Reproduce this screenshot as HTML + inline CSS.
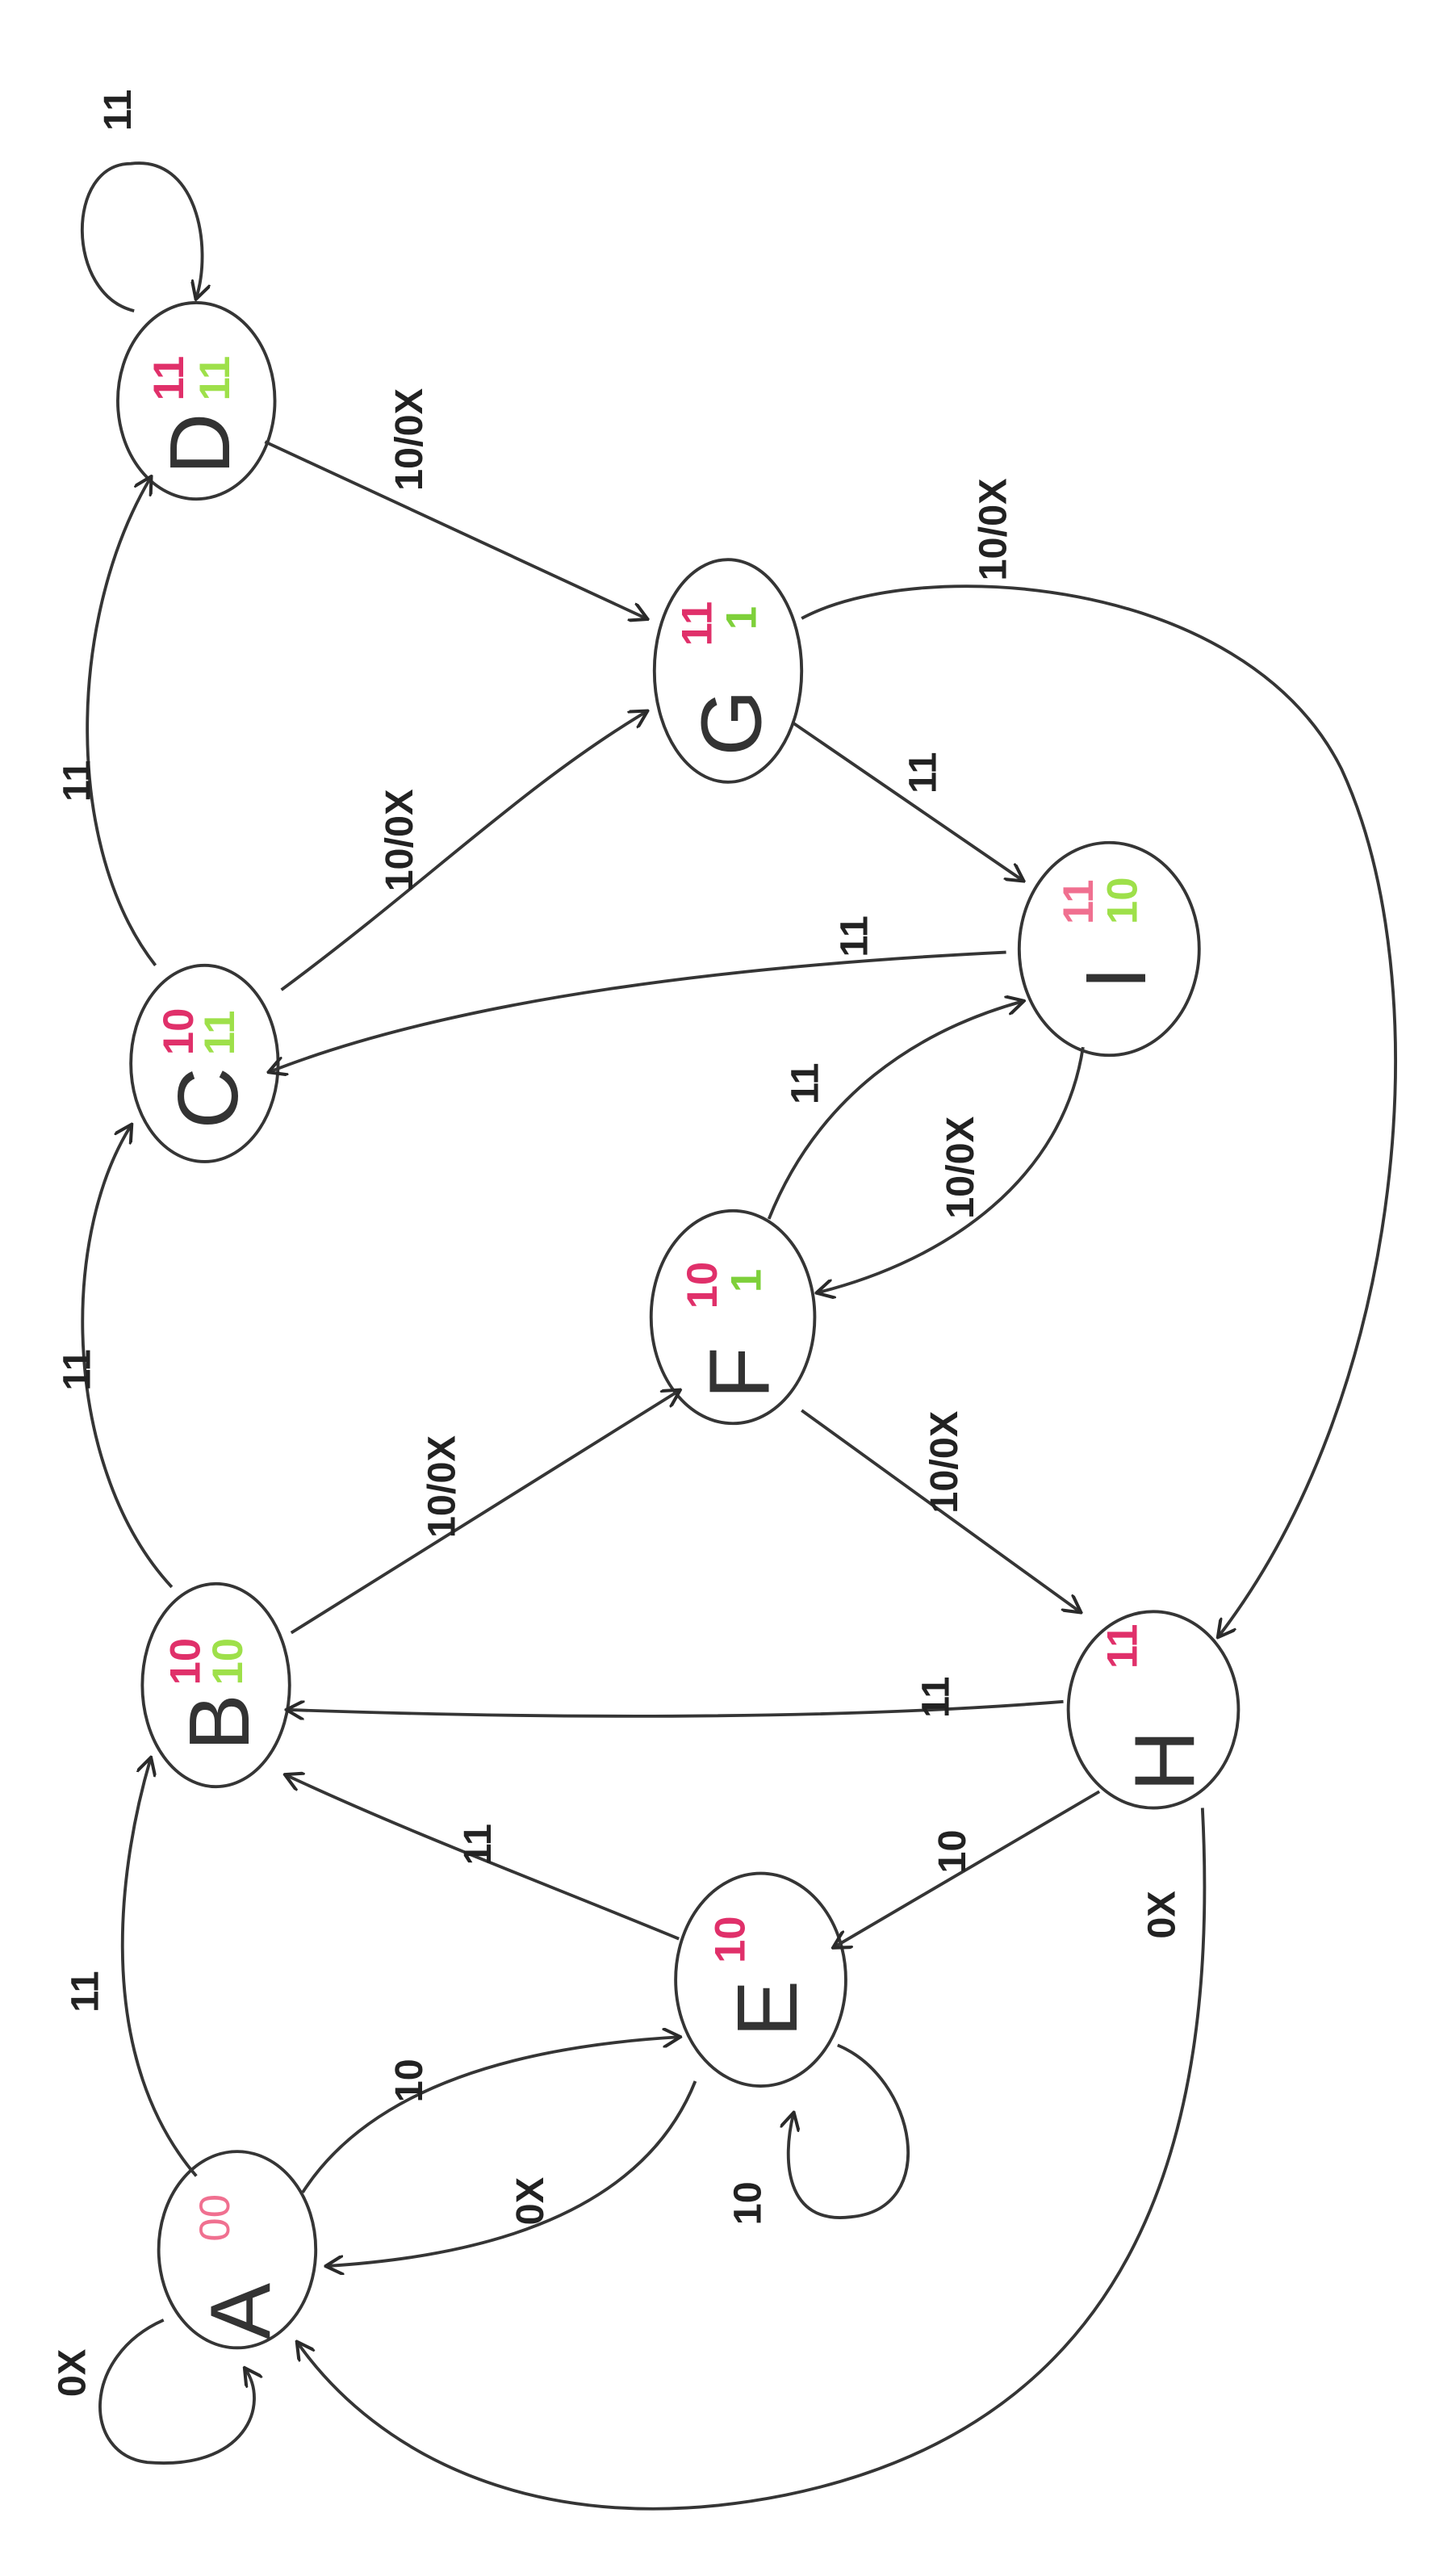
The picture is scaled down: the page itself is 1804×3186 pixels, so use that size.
<!DOCTYPE html>
<html><head><meta charset="utf-8"><style>
html,body{margin:0;padding:0;background:#fff;}
svg{display:block;}
text{font-family:"Liberation Sans",sans-serif;}
</style></head><body>
<svg width="1804" height="3186" viewBox="0 0 890 1572" preserveAspectRatio="none" xmlns="http://www.w3.org/2000/svg">
<defs>
<marker id="ar" markerWidth="12" markerHeight="12" refX="10" refY="6" orient="auto" markerUnits="userSpaceOnUse">
<path d="M0,0 L11,6 L0,12" fill="none" stroke="#2a2a2a" stroke-width="2"/>
</marker>
</defs>
<rect width="890" height="1572" fill="#fff"/>
<g fill="none" stroke="#353535" stroke-width="1.9">
<ellipse cx="120" cy="245" rx="48" ry="60"/>
<ellipse cx="445" cy="410" rx="45" ry="68"/>
<ellipse cx="125" cy="650" rx="45" ry="60"/>
<ellipse cx="678" cy="580" rx="55" ry="65"/>
<ellipse cx="448" cy="805" rx="50" ry="65"/>
<ellipse cx="132" cy="1030" rx="45" ry="62"/>
<ellipse cx="705" cy="1045" rx="52" ry="60"/>
<ellipse cx="465" cy="1210" rx="52" ry="65"/>
<ellipse cx="145" cy="1375" rx="48" ry="60"/>
<path d="M82,190 C40,180 40,100 80,100 C120,95 130,150 120,182" marker-end="url(#ar)"/>
<path d="M95,590 C40,520 40,380 92,292" marker-end="url(#ar)"/>
<path d="M162,270 L395,378" marker-end="url(#ar)"/>
<path d="M172,605 C260,540 320,480 395,435" marker-end="url(#ar)"/>
<path d="M485,442 L625,538" marker-end="url(#ar)"/>
<path d="M615,582 C450,590 280,610 165,655" marker-end="url(#ar)"/>
<path d="M662,640 C650,720 580,770 500,790" marker-end="url(#ar)"/>
<path d="M470,745 C500,670 560,630 625,612" marker-end="url(#ar)"/>
<path d="M490,378 C560,340 760,350 820,470 C880,600 860,850 745,1000" marker-end="url(#ar)"/>
<path d="M105,970 C40,900 35,760 80,688" marker-end="url(#ar)"/>
<path d="M178,998 L415,850" marker-end="url(#ar)"/>
<path d="M490,862 L660,985" marker-end="url(#ar)"/>
<path d="M650,1040 C500,1052 320,1050 176,1045" marker-end="url(#ar)"/>
<path d="M672,1095 L510,1190" marker-end="url(#ar)"/>
<path d="M415,1185 C330,1150 250,1120 175,1085" marker-end="url(#ar)"/>
<path d="M120,1330 C60,1260 70,1150 92,1075" marker-end="url(#ar)"/>
<path d="M185,1340 C230,1270 330,1250 415,1245" marker-end="url(#ar)"/>
<path d="M425,1272 C390,1360 280,1380 200,1385" marker-end="url(#ar)"/>
<path d="M512,1250 C560,1270 575,1350 520,1355 C480,1360 478,1320 485,1292" marker-end="url(#ar)"/>
<path d="M100,1418 C50,1440 50,1500 90,1505 C150,1510 165,1470 150,1448" marker-end="url(#ar)"/>
<path d="M735,1105 C745,1300 700,1480 480,1525 C330,1555 230,1500 182,1432" marker-end="url(#ar)"/>
</g>
<g font-size="52" fill="#333">
<text transform="translate(140,290) rotate(-90)">D</text>
<text transform="translate(465,462) rotate(-90)">G</text>
<text transform="translate(145,690) rotate(-90)">C</text>
<text transform="translate(700,605) rotate(-90)">I</text>
<text transform="translate(470,855) rotate(-90)">F</text>
<text transform="translate(152,1070) rotate(-90)">B</text>
<text transform="translate(730,1095) rotate(-90)">H</text>
<text transform="translate(487,1245) rotate(-90)">E</text>
<text transform="translate(165,1430) rotate(-90)">A</text>
</g>
<g font-size="26" font-weight="bold">
<text transform="translate(112,245) rotate(-90)" fill="#e0306a">11</text>
<text transform="translate(140,245) rotate(-90)" fill="#9ee04a">11</text>
<text transform="translate(435,395) rotate(-90)" fill="#e0306a">11</text>
<text transform="translate(462,385) rotate(-90)" fill="#7ed03a">1</text>
<text transform="translate(118,645) rotate(-90)" fill="#e0306a">10</text>
<text transform="translate(143,645) rotate(-90)" fill="#9ee04a">11</text>
<text transform="translate(668,565) rotate(-90)" fill="#f07090">11</text>
<text transform="translate(695,565) rotate(-90)" fill="#9ee04a">10</text>
<text transform="translate(438,800) rotate(-90)" fill="#e0306a">10</text>
<text transform="translate(465,790) rotate(-90)" fill="#7ed03a">1</text>
<text transform="translate(122,1030) rotate(-90)" fill="#e0306a">10</text>
<text transform="translate(148,1030) rotate(-90)" fill="#9ee04a">10</text>
<text transform="translate(695,1020) rotate(-90)" fill="#e0306a">11</text>
<text transform="translate(455,1200) rotate(-90)" fill="#e0306a">10</text>
<text transform="translate(140,1370) rotate(-90)" fill="#f07090" font-weight="normal">00</text>
</g>
<g font-size="24" fill="#222" font-weight="bold">
<text transform="translate(80,80) rotate(-90)">11</text>
<text transform="translate(55,490) rotate(-90)">11</text>
<text transform="translate(258,300) rotate(-90)">10/0X</text>
<text transform="translate(252,545) rotate(-90)">10/0X</text>
<text transform="translate(572,485) rotate(-90)">11</text>
<text transform="translate(530,585) rotate(-90)">11</text>
<text transform="translate(595,745) rotate(-90)">10/0X</text>
<text transform="translate(500,675) rotate(-90)">11</text>
<text transform="translate(615,355) rotate(-90)">10/0X</text>
<text transform="translate(55,850) rotate(-90)">11</text>
<text transform="translate(278,940) rotate(-90)">10/0X</text>
<text transform="translate(585,925) rotate(-90)">10/0X</text>
<text transform="translate(580,1050) rotate(-90)">11</text>
<text transform="translate(590,1145) rotate(-90)">10</text>
<text transform="translate(300,1140) rotate(-90)">11</text>
<text transform="translate(60,1230) rotate(-90)">11</text>
<text transform="translate(258,1285) rotate(-90)">10</text>
<text transform="translate(332,1360) rotate(-90)">0X</text>
<text transform="translate(465,1360) rotate(-90)">10</text>
<text transform="translate(52,1465) rotate(-90)">0X</text>
<text transform="translate(718,1185) rotate(-90)">0X</text>
</g>
</svg>
</body></html>
